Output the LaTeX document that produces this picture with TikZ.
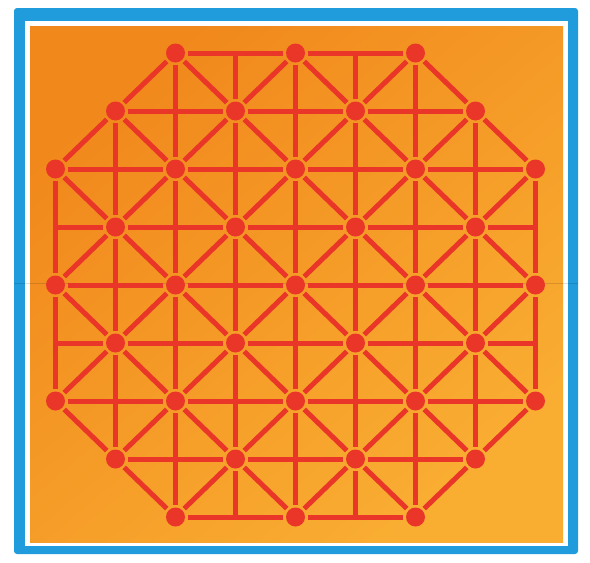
\documentclass[tikz,border=0pt]{standalone}
\definecolor{boardblue}{RGB}{32,156,220}
\definecolor{orangeA}{RGB}{241,136,28}
\definecolor{orangeB}{RGB}{249,174,50}
\definecolor{linered}{RGB}{233,54,40}
\begin{document}
\begin{tikzpicture}[x=1pt,y=-1pt,
  dot/.style={circle, fill=linered, minimum size=19pt, inner sep=0pt, outer sep=2.6pt},
  link/.style={draw=linered, line width=5pt, line cap=butt}]
\useasboundingbox (0,0) rectangle (590,563);
\fill[white] (0,0) rectangle (590,563);
\fill[boardblue, rounded corners=3pt] (14,8) rectangle (578,554);
\fill[white] (25,21) rectangle (568,546);
\shade[shading=axis, top color=orangeA, bottom color=orangeB, shading angle=40] (30,26) rectangle (563,542);
\draw[black, opacity=0.13, line width=0.7pt] (14,283) -- (578,283);
% lattice points
\foreach \i in {0,...,8}{
  \foreach \j in {0,...,8}{
    \pgfmathtruncatemacro{\inside}{abs(\i-4)+abs(\j-4)<7 ? 1 : 0}
    \pgfmathtruncatemacro{\isdot}{mod(\i+\j,2)==0 ? 1 : 0}
    \ifnum\inside=1
      \ifnum\isdot=1
        \node[dot] (n-\i-\j) at ({55.5+60*\i},{53+58*\j}) {};
      \else
        \coordinate (n-\i-\j) at ({55.5+60*\i},{53+58*\j});
      \fi
    \fi
  }
}
% horizontal and vertical segments
\foreach \i in {0,...,7}{
  \foreach \j in {0,...,8}{
    \pgfmathtruncatemacro{\ip}{\i+1}
    \pgfmathtruncatemacro{\ok}{(abs(\i-4)+abs(\j-4)<7) && (abs(\ip-4)+abs(\j-4)<7) ? 1 : 0}
    \ifnum\ok=1
      \draw[link] (n-\i-\j) -- (n-\ip-\j);
    \fi
    \pgfmathtruncatemacro{\okv}{(abs(\j-4)+abs(\i-4)<7) && (abs(\j-4)+abs(\ip-4)<7) ? 1 : 0}
    \ifnum\okv=1
      \draw[link] (n-\j-\i) -- (n-\j-\ip);
    \fi
  }
}
% diagonal segments
\foreach \i in {0,...,7}{
  \foreach \j in {0,...,8}{
    \pgfmathtruncatemacro{\ip}{\i+1}
    \pgfmathtruncatemacro{\jp}{\j+1}
    \pgfmathtruncatemacro{\jm}{\j-1}
    \pgfmathtruncatemacro{\isdot}{mod(\i+\j,2)==0 ? 1 : 0}
    \pgfmathtruncatemacro{\okd}{(\isdot==1) && (\j<8) && (abs(\i-4)+abs(\j-4)<7) && (abs(\ip-4)+abs(\jp-4)<7) ? 1 : 0}
    \ifnum\okd=1
      \draw[link] (n-\i-\j) -- (n-\ip-\jp);
    \fi
    \pgfmathtruncatemacro{\oku}{(\isdot==1) && (\j>0) && (abs(\i-4)+abs(\j-4)<7) && (abs(\ip-4)+abs(\jm-4)<7) ? 1 : 0}
    \ifnum\oku=1
      \draw[link] (n-\i-\j) -- (n-\ip-\jm);
    \fi
  }
}
\end{tikzpicture}
\end{document}
